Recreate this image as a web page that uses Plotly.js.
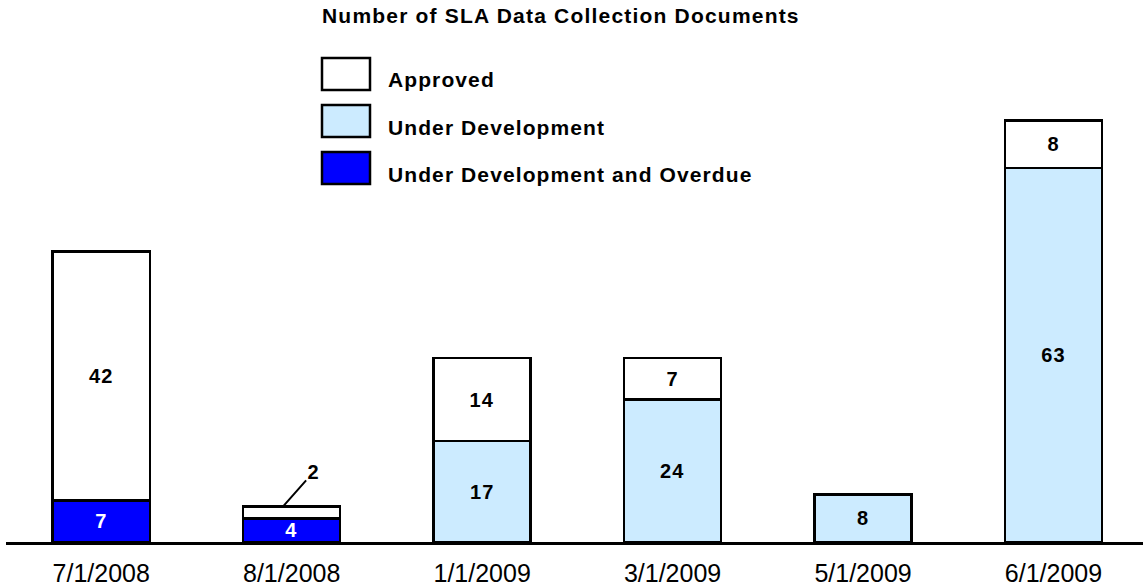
<!DOCTYPE html>
<html>
<head>
<meta charset="utf-8">
<script src="https://cdn.plot.ly/plotly-3.0.1.min.js"></script>
<style>
html,body{margin:0;padding:0;background:#fff;}
#chart{width:1143px;height:588px;}
#chart text.gtitle{letter-spacing:1.2px;}
#chart g.annotation text{letter-spacing:1.1px;}
#chart text.bartext{letter-spacing:1px;}
</style>
</head>
<body>
<div id="chart"></div>
<script>
const categories = ["7/1/2008", "8/1/2008", "1/1/2009", "3/1/2009", "5/1/2009", "6/1/2009"];
const overdue = [7, 4, null, null, null, null];
const underDev = [null, null, 17, 24, 8, 63];
const approved = [42, 2, 14, 7, null, 8];
const seriesNames = ["Approved", "Under Development", "Under Development and Overdue"];
const seriesColors = ["#FFFFFF", "#CCEBFF", "#0000FF"];
const titleText = "Number of SLA Data Collection Documents";

const FONT = "Arial, 'Liberation Sans', Helvetica, sans-serif";
const W = 1143, H = 588;
const M = {l: 6, r: 0, t: 97, b: 46};
const plotW = W - M.l - M.r, plotH = H - M.t - M.b;
const px2x = p => (p - M.l) / plotW;
const px2y = p => (H - M.b - p) / plotH;

const SMALL = 3; // segments too thin for an inside label
const lbl = arr => arr.map(v => (v == null || v < SMALL) ? "" : String(v));

const common = {
  type: "bar", x: categories, width: 0.51,
  textposition: "inside", insidetextanchor: "middle",
  textangle: 0, constraintext: "none",
  hoverinfo: "x+y+name", showlegend: false
};
const traces = [
  Object.assign({}, common, {name: seriesNames[2], y: overdue, text: lbl(overdue),
    marker: {color: seriesColors[2], line: {color: "#000", width: 2.5}},
    textfont: {family: FONT, size: 20, color: "#FFFFFF", weight: "bold"}}),
  Object.assign({}, common, {name: seriesNames[1], y: underDev, text: lbl(underDev),
    marker: {color: seriesColors[1], line: {color: "#000", width: 2.5}},
    textfont: {family: FONT, size: 20, color: "#000", weight: "bold"}}),
  Object.assign({}, common, {name: seriesNames[0], y: approved, text: lbl(approved),
    marker: {color: seriesColors[0], line: {color: "#000", width: 2.5}},
    textfont: {family: FONT, size: 20, color: "#000", weight: "bold"}})
];

// legend drawn as large swatches
const shapes = [];
const annotations = [];
const legTop = [58, 105, 152];
seriesNames.forEach((n, i) => {
  const t = legTop[i];
  shapes.push({type: "rect", xref: "paper", yref: "paper",
    x0: px2x(322), x1: px2x(370), y0: px2y(t + 32), y1: px2y(t),
    fillcolor: seriesColors[i], line: {color: "#000", width: 2.5}});
  annotations.push({xref: "paper", yref: "paper", x: px2x(386), y: px2y(t + 22),
    xanchor: "left", yanchor: "middle", align: "left", showarrow: false, text: n,
    font: {family: FONT, size: 21, color: "#000", weight: "bold"}});
});

// callout labels for thin segments
const stackBase = categories.map((c, i) => (overdue[i] || 0) + (underDev[i] || 0));
approved.forEach((v, i) => {
  if (v != null && v < SMALL) {
    annotations.push({x: i - 0.045, y: stackBase[i] + v, xref: "x", yref: "y",
      text: String(v), showarrow: true, arrowhead: 0, arrowwidth: 2, arrowcolor: "#000",
      ax: 30, ay: -34, standoff: 0,
      font: {family: FONT, size: 20, color: "#000", weight: "bold"}});
  }
});

const layout = {
  width: W, height: H, margin: M,
  paper_bgcolor: "#fff", plot_bgcolor: "#fff",
  barmode: "stack", bargap: 0.49,
  title: {text: titleText, xref: "container", yref: "container",
    x: 322 / W, xanchor: "left", y: 1 - 16 / H, yanchor: "middle",
    font: {family: FONT, size: 21, color: "#000", weight: "bold"}},
  xaxis: {type: "category", range: [-0.5, 5.47], showline: true, linecolor: "#000", linewidth: 2.5,
    showgrid: false, zeroline: false, ticks: "", ticklabelstandoff: 7,
    tickfont: {family: FONT, size: 25, color: "#000"}, fixedrange: true},
  yaxis: {range: [0, 75], visible: false, showgrid: false, zeroline: false, fixedrange: true},
  shapes: shapes, annotations: annotations,
  uniformtext: {mode: false}
};
Plotly.newPlot("chart", traces, layout, {displayModeBar: false, staticPlot: true});
</script>
</body>
</html>
